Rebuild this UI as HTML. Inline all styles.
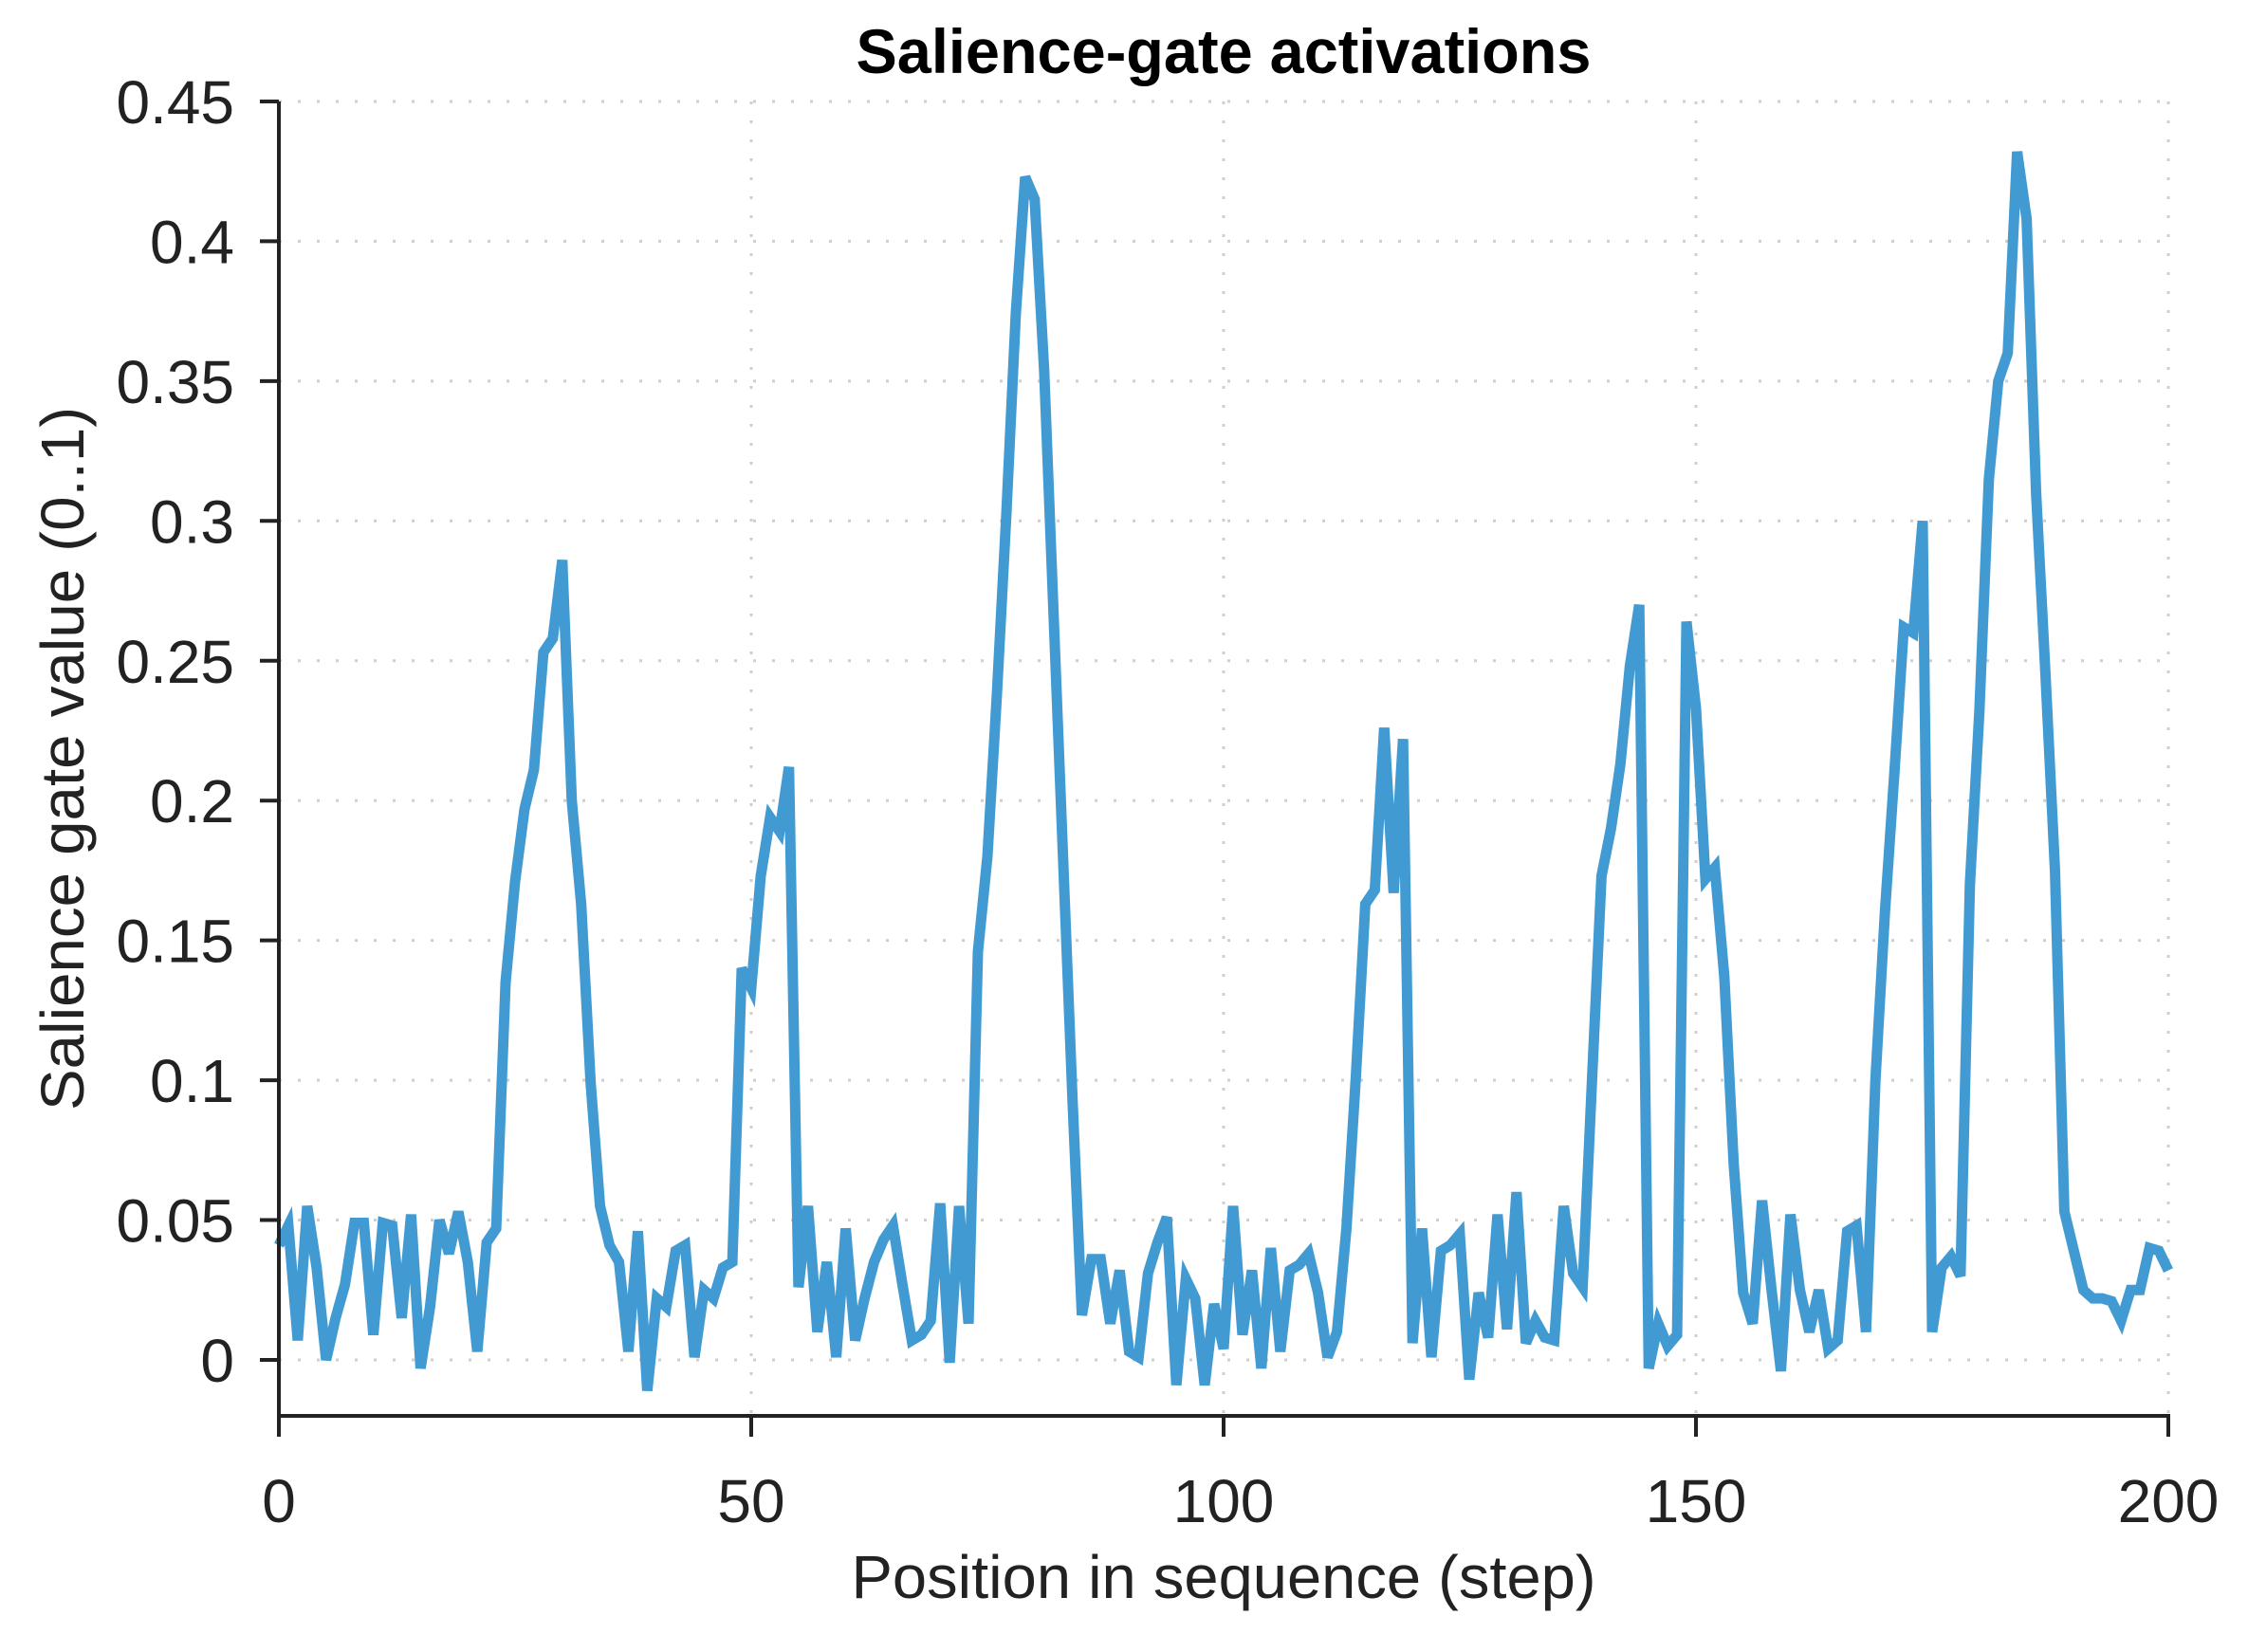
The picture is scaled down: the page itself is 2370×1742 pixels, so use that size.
<!DOCTYPE html>
<html><head><meta charset="utf-8"><style>
html,body{margin:0;padding:0;background:#fff;}
svg{display:block;font-family:"Liberation Sans",Arial,sans-serif;}
</style></head><body>
<svg id="chart" width="2370" height="1742" viewBox="0 0 2370 1742" xmlns="http://www.w3.org/2000/svg">
<rect width="2370" height="1742" fill="#fff"/>
<text x="1290" y="77" text-anchor="middle" font-weight="bold" font-size="66" textLength="775" lengthAdjust="spacingAndGlyphs" fill="#000">Salience-gate activations</text>
<g id="grid"></g>
<g id="series"></g>
<g id="axes"></g>
<text x="1290" y="1685" text-anchor="middle" font-size="64" textLength="785" lengthAdjust="spacingAndGlyphs" fill="#222">Position in sequence (step)</text>
<text transform="translate(88,800) rotate(-90)" text-anchor="middle" font-size="64" textLength="742" lengthAdjust="spacingAndGlyphs" fill="#222">Salience gate value (0..1)</text>
</svg>
<script>
const xTicks = [0, 50, 100, 150, 200];
const xTickLabels = ["0", "50", "100", "150", "200"];
const yTicks = [0, 0.05, 0.1, 0.15, 0.2, 0.25, 0.3, 0.35, 0.4, 0.45];
const yTickLabels = ["0", "0.05", "0.1", "0.15", "0.2", "0.25", "0.3", "0.35", "0.4", "0.45"];
const gateValues = [
0.041,0.048,0.007,0.055,0.033,0.0,0.015,0.027,0.049,0.049,
0.009,0.049,0.048,0.015,0.052,-0.003,0.019,0.05,0.038,0.053,
0.035,0.003,0.042,0.047,0.135,0.171,0.197,0.211,0.253,0.258,
0.286,0.2,0.163,0.099,0.055,0.041,0.035,0.003,0.046,-0.011,
0.022,0.019,0.039,0.041,0.001,0.025,0.022,0.033,0.035,0.14,
0.133,0.173,0.194,0.189,0.212,0.026,0.055,0.01,0.035,0.001,
0.047,0.007,0.022,0.035,0.043,0.048,0.027,0.007,0.009,0.014,
0.056,-0.001,0.055,0.013,0.146,0.18,0.238,0.302,0.374,0.423,
0.415,0.354,0.267,0.18,0.094,0.016,0.036,0.036,0.013,0.032,
0.003,0.001,0.031,0.042,0.051,-0.009,0.029,0.022,-0.009,0.02,
0.004,0.055,0.009,0.032,-0.003,0.04,0.003,0.032,0.034,0.038,
0.024,0.001,0.01,0.047,0.101,0.163,0.168,0.226,0.167,0.222,
0.006,0.047,0.001,0.039,0.041,0.045,-0.007,0.024,0.008,0.052,
0.011,0.06,0.006,0.014,0.008,0.007,0.055,0.031,0.026,0.1,
0.173,0.19,0.213,0.248,0.27,-0.003,0.013,0.005,0.009,0.264,
0.233,0.172,0.176,0.137,0.07,0.024,0.013,0.057,0.025,-0.004,
0.052,0.025,0.01,0.025,0.004,0.007,0.046,0.048,0.01,0.1,
0.16,0.21,0.262,0.26,0.3,0.01,0.033,0.037,0.03,0.17,
0.232,0.315,0.35,0.36,0.432,0.408,0.31,0.245,0.175,0.053,
0.039,0.025,0.022,0.022,0.021,0.014,0.025,0.025,0.04,0.039,
0.032
];
const NS = "http://www.w3.org/2000/svg";
const X0 = 294, X1 = 2286, XMIN = 0, XMAX = 200;
const Y0 = 1434, YPER = 2949, YMIN = -0.02, YMAX = 0.45;
function xs(v){ return X0 + (v - XMIN) / (XMAX - XMIN) * (X1 - X0); }
function ys(v){ return Y0 - v * YPER; }
function mk(tag, attrs, parent){ const e = document.createElementNS(NS, tag); for (const k in attrs) e.setAttribute(k, attrs[k]); parent.appendChild(e); return e; }
const grid = document.getElementById('grid');
const axes = document.getElementById('axes');
const series = document.getElementById('series');
const yBottom = ys(YMIN), yTop = ys(YMAX);
yTicks.forEach((t, i) => {
  const y = ys(t);
  const g = mk('line', {x1: X0, x2: X1, y1: y, y2: y, stroke: '#cfcfcf', 'stroke-width': 3, 'stroke-dasharray': '3 17'}, grid);
  
  
  const tk = mk('line', {x1: X0 - 20, x2: X0, y1: y, y2: y, stroke: '#222', 'stroke-width': 4}, axes);
  
  
  const lb = mk('text', {x: 247, y: y + 23, 'text-anchor': 'end', 'font-size': 64, fill: '#222'}, axes);
  lb.textContent = yTickLabels[i];
  
  
});
xTicks.forEach((t, i) => {
  const x = xs(t);
  if (t > 0) {
    const g = mk('line', {x1: x, x2: x, y1: yTop, y2: yBottom, stroke: '#cfcfcf', 'stroke-width': 3, 'stroke-dasharray': '3 17'}, grid);
    
    
  }
  const tk = mk('line', {x1: x, x2: x, y1: yBottom, y2: yBottom + 22, stroke: '#222', 'stroke-width': 4}, axes);
  
  
  const lb = mk('text', {x: x, y: 1605, 'text-anchor': 'middle', 'font-size': 64, fill: '#222'}, axes);
  lb.textContent = xTickLabels[i];
  
  
});
const ya = mk('line', {x1: X0, x2: X0, y1: yTop, y2: yBottom + 2, stroke: '#222', 'stroke-width': 4}, axes);


const xa = mk('line', {x1: X0 - 2, x2: X1 + 2, y1: yBottom, y2: yBottom, stroke: '#222', 'stroke-width': 4}, axes);


const pts = gateValues.map((v, i) => xs(i).toFixed(1) + ',' + ys(v).toFixed(1)).join(' ');
const line = mk('polyline', {points: pts, fill: 'none', stroke: '#419bd2', 'stroke-width': 11, 'stroke-linejoin': 'miter', 'stroke-miterlimit': 4}, series);


</script>
</body></html>
